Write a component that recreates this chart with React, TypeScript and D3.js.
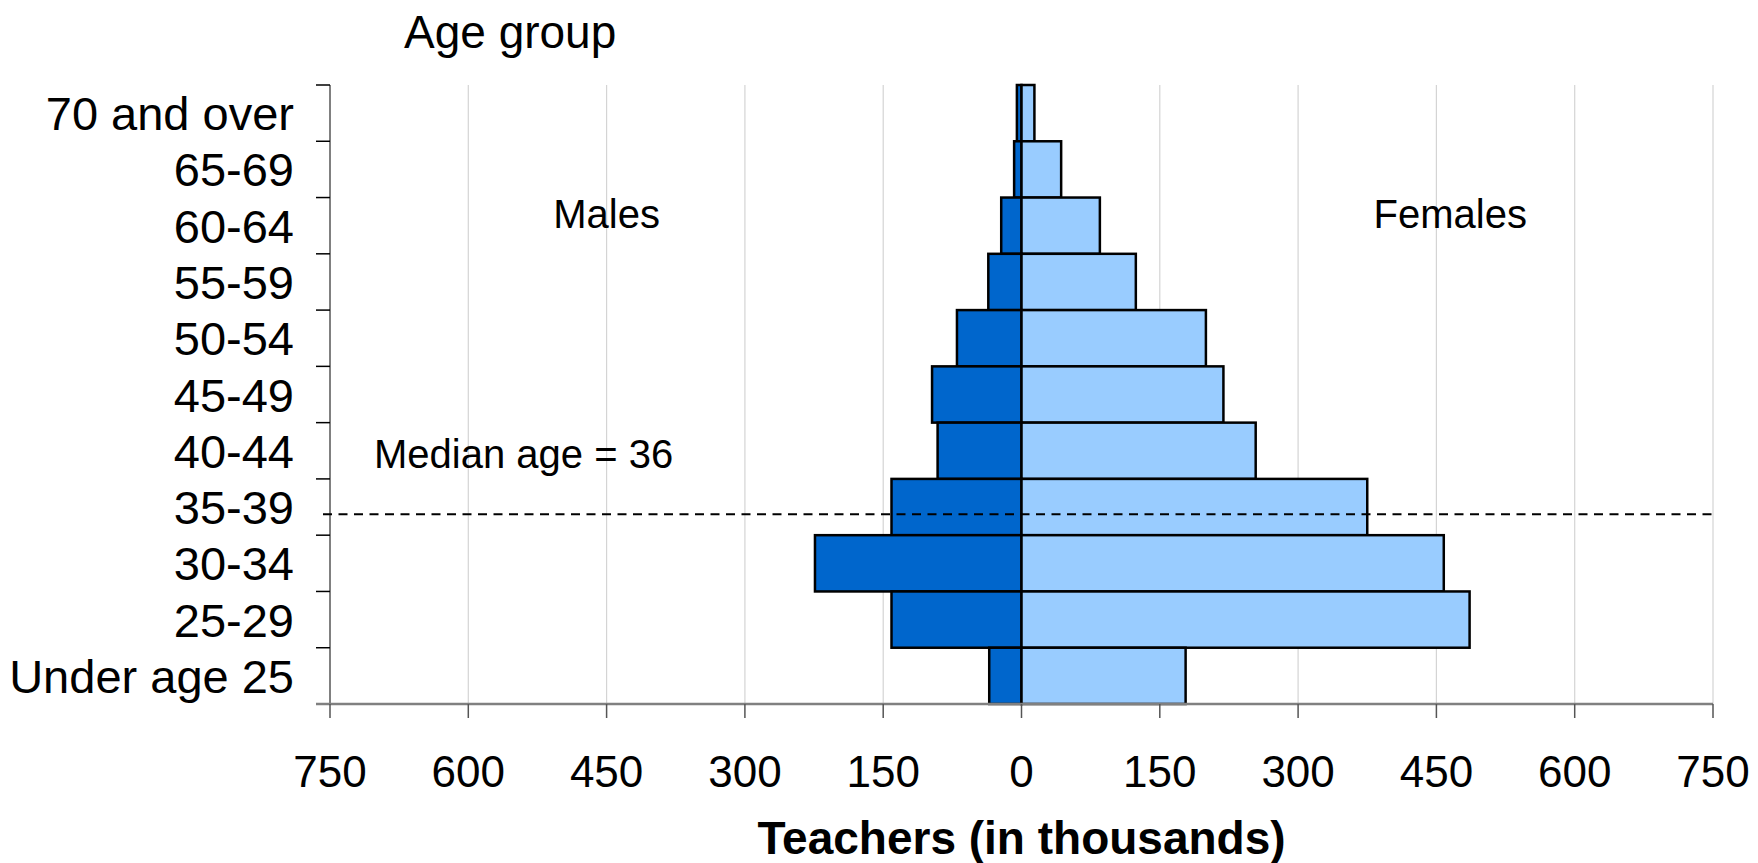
import React from 'react';
import * as d3 from 'd3';

const ageGroups = ['70 and over', '65-69', '60-64', '55-59', '50-54', '45-49', '40-44', '35-39', '30-34', '25-29', 'Under age 25'];
const males = [5, 8, 22, 36, 70, 97, 91, 141, 224, 141, 35];
const females = [14, 43, 85, 124, 200, 219, 254, 375, 458, 486, 178];
const xTicks = [-750, -600, -450, -300, -150, 0, 150, 300, 450, 600, 750];
const medianAge = 36;

const width = 1758;
const height = 863;
const margin = { top: 85, right: 45, bottom: 159, left: 330 };
const font = '"Liberation Sans", Arial, sans-serif';

export default function App() {
  const innerW = width - margin.left - margin.right;
  const innerH = height - margin.top - margin.bottom;

  const x = d3.scaleLinear().domain([-750, 750]).range([0, innerW]);
  const y = d3.scaleBand().domain(ageGroups).range([0, innerH]).padding(0);
  const bw = y.bandwidth();

  // age in years -> vertical position (age 25 = top of "Under age 25", 70 = top of "65-69")
  const ageY = d3.scaleLinear()
    .domain([25, 70])
    .range([y('Under age 25')!, y('70 and over')! + bw]);
  // line drawn just under the end of the median year
  const medianY = ageY(medianAge + 0.85);

  return (
    <svg width={width} height={height} style={{ position: 'absolute', left: 0, top: 0, background: '#fff' }}>
      <text x={404} y={48} fontFamily={font} fontSize={46}>Age group</text>
      <g transform={`translate(${margin.left}, ${margin.top})`}>
        {xTicks.filter(t => t !== -750 && t !== 0).map(t => (
          <line key={'g' + t} x1={x(t)} x2={x(t)} y1={0} y2={innerH} stroke="#d4d4d4" strokeWidth={1.2} />
        ))}

        {ageGroups.map((g, i) => (
          <g key={g}>
            <rect
              x={x(-males[i])}
              y={y(g)}
              width={x(0) - x(-males[i])}
              height={bw}
              fill="#0066CC"
              stroke="#000"
              strokeWidth={2.5}
            />
            <rect
              x={x(0)}
              y={y(g)}
              width={x(females[i]) - x(0)}
              height={bw}
              fill="#99CCFF"
              stroke="#000"
              strokeWidth={2.5}
            />
          </g>
        ))}

        {/* y axis */}
        <line x1={0} x2={0} y1={0} y2={innerH} stroke="#808080" strokeWidth={2} />
        {ageGroups.concat(['']).map((g, i) => (
          <line key={'yt' + i} x1={-14} x2={0} y1={i * bw} y2={i * bw} stroke="#000" strokeWidth={1.5} />
        ))}
        {ageGroups.map(g => (
          <text key={'yl' + g} x={-36} y={y(g)! + bw / 2 + 17} textAnchor="end" fontFamily={font} fontSize={47}>{g}</text>
        ))}

        {/* x axis */}
        <line x1={-14} x2={innerW} y1={innerH} y2={innerH} stroke="#808080" strokeWidth={2.5} />
        {xTicks.map(t => (
          <g key={'xt' + t} transform={`translate(${x(t)}, ${innerH})`}>
            <line y1={0} y2={14} stroke="#555" strokeWidth={1.5} />
            <text y={83} textAnchor="middle" fontFamily={font} fontSize={44}>{Math.abs(t)}</text>
          </g>
        ))}
        <text x={x(0)} y={innerH + 150} textAnchor="middle" fontFamily={font} fontSize={46} fontWeight="bold">
          Teachers (in thousands)
        </text>

        {/* median line */}
        <line x1={-7} x2={innerW} y1={medianY} y2={medianY} stroke="#000" strokeWidth={2} strokeDasharray="9,6.5" />
        <text x={44} y={383} fontFamily={font} fontSize={40}>{`Median age = ${medianAge}`}</text>

        <text x={x(-450)} y={143} textAnchor="middle" fontFamily={font} fontSize={40}>Males</text>
        <text x={x(465)} y={143} textAnchor="middle" fontFamily={font} fontSize={40}>Females</text>
      </g>
    </svg>
  );
}
